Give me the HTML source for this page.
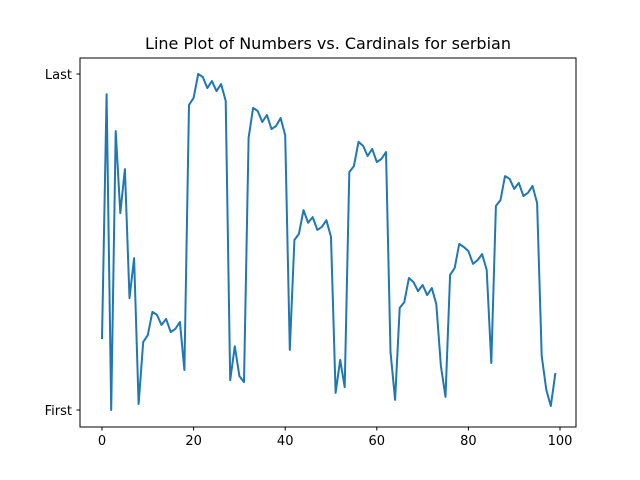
<!DOCTYPE html>
<html><head><meta charset="utf-8"><style>
body{margin:0;background:#fff}
svg{display:block;font-family:"DejaVu Sans","Liberation Sans",sans-serif}
</style></head><body>
<svg id="chart" width="640" height="480">
<rect width="640" height="480" fill="#fff"/>
<text x="328" y="49" text-anchor="middle" font-size="16">Line Plot of Numbers vs. Cardinals for serbian</text>
<g id="xticks"></g><g id="yticks"></g>
<path id="series" fill="none" stroke="#1f77b4" stroke-width="2" stroke-linejoin="round"/>
<rect x="80" y="58" width="496" height="369" fill="none" stroke="#000" stroke-width="1"/>
</svg>
<script>
const values=[.211,.940,0,.830,.586,.717,.333,.452,.018,.202,.223,.292,.283,.253,.271,.232,.241,.262,.119,.908,.929,1,.991,.958,.979,.949,.970,.920,.089,.190,.101,.083,.810,.899,.890,.857,.878,.836,.845,.869,.818,.179,.506,.524,.595,.557,.574,.536,.545,.565,.515,.051,.149,.068,.708,.726,.798,.786,.756,.777,.738,.747,.768,.173,.030,.304,.321,.393,.381,.354,.372,.342,.363,.315,.131,.039,.402,.423,.494,.485,.473,.435,.446,.464,.417,.140,.607,.625,.696,.688,.658,.676,.637,.646,.667,.616,.161,.060,.012,.110];
const xTicks=[0,20,40,60,80,100];
const yTickVals=[0,1];
const yTickLabels=["First","Last"];
const NS="http://www.w3.org/2000/svg";
const xs=i=>102+i*4.58;
const ys=v=>410-v*336;
let d="";
values.forEach((v,i)=>{d+=(i?"L":"M")+xs(i).toFixed(1)+","+ys(v).toFixed(1);});
document.getElementById("series").setAttribute("d",d);
const xg=document.getElementById("xticks");
xTicks.forEach(t=>{
 const l=document.createElementNS(NS,"line");
 l.setAttribute("x1",xs(t));l.setAttribute("x2",xs(t));l.setAttribute("y1",427);l.setAttribute("y2",430.5);l.setAttribute("stroke","#000");
 
 
 xg.appendChild(l);
 const tx=document.createElementNS(NS,"text");
 tx.setAttribute("x",xs(t));tx.setAttribute("y",445);tx.setAttribute("text-anchor","middle");tx.setAttribute("font-size","13");
 tx.textContent=t;
 
 
 xg.appendChild(tx);
});
const yg=document.getElementById("yticks");
yTickVals.forEach((v,k)=>{
 const l=document.createElementNS(NS,"line");
 l.setAttribute("x1",76.5);l.setAttribute("x2",80);l.setAttribute("y1",ys(v));l.setAttribute("y2",ys(v));l.setAttribute("stroke","#000");
 
 
 yg.appendChild(l);
 const tx=document.createElementNS(NS,"text");
 tx.setAttribute("x",72);tx.setAttribute("y",ys(v)+5);tx.setAttribute("text-anchor","end");tx.setAttribute("font-size","13");
 tx.textContent=yTickLabels[k];
 
 
 yg.appendChild(tx);
});
</script>
</body></html>
